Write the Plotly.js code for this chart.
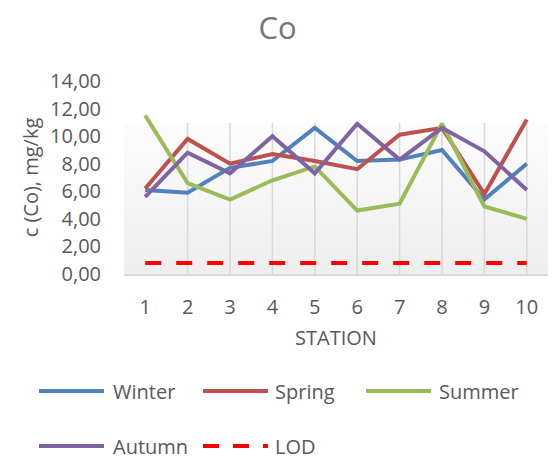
<!DOCTYPE html>
<html>
<head>
<meta charset="utf-8">
<script src="https://cdn.plot.ly/plotly-3.0.1.min.js"></script>
<style>
  html, body { margin: 0; padding: 0; background: #ffffff; }
  #chart { width: 555px; height: 461px; }
</style>
</head>
<body>
<div id="chart"></div>
<script>
// ---- data ----
const stations = ['1', '2', '3', '4', '5', '6', '7', '8', '9', '10'];
const winter = [6.1, 5.9, 7.7, 8.2, 10.6, 8.2, 8.3, 9.0, 5.4, 8.0];
const spring = [6.2, 9.8, 8.0, 8.7, 8.2, 7.6, 10.1, 10.6, 5.8, 11.2];
const summer = [11.5, 6.6, 5.4, 6.8, 7.8, 4.6, 5.1, 10.9, 4.9, 4.0];
const autumn = [5.6, 8.8, 7.3, 10.0, 7.3, 10.9, 8.3, 10.6, 8.9, 6.1];
const lod = [0.8, 0.8, 0.8, 0.8, 0.8, 0.8, 0.8, 0.8, 0.8, 0.8];
const seriesNames = ['Winter', 'Spring', 'Summer', 'Autumn', 'LOD'];
const yTicks = [0, 2, 4, 6, 8, 10, 12, 14];

// ---- styles ----
const colors = ['#4F81BD', '#C0504D', '#9BBB59', '#8064A2', '#FF0000'];
const textColor = '#595959';
const FONT = 'Open Sans, sans-serif';
const W = 555, H = 461;
const M = { l: 124, r: 7, t: 81, b: 187 };
const plotW = W - M.l - M.r, plotH = H - M.t - M.b;
const px2x = px => (px - M.l) / plotW;
const py2y = py => (H - M.b - py) / plotH;
const shadeTop = py2y(123);

const values = [winter, spring, summer, autumn, lod];
const traces = values.map((v, i) => ({
  type: 'scatter', mode: 'lines', name: seriesNames[i],
  x: stations, y: v,
  line: { color: colors[i], width: 4, dash: i === 4 ? '16px,15px' : 'solid' },
  cliponaxis: false, showlegend: false, hoverinfo: 'x+y+name'
}));

// gridlines (one per category, only in shaded area)
const shapes = stations.map(s => ({
  type: 'line', xref: 'x', yref: 'paper', x0: s, x1: s, y0: 0, y1: shadeTop,
  line: { color: '#d9d9d9', width: 1.5 }, layer: 'below'
}));

// custom legend (Excel-like long swatches)
const legendItems = [
  { row: 391, lx: 39, tx: 111 },
  { row: 391, lx: 203, tx: 273 },
  { row: 391, lx: 366, tx: 437 },
  { row: 446, lx: 39, tx: 111 },
  { row: 446, lx: 203, tx: 273 }
];
const annotations = [];
legendItems.forEach((it, i) => {
  shapes.push({
    type: 'line', xref: 'paper', yref: 'paper',
    x0: px2x(it.lx), x1: px2x(it.lx + 65), y0: py2y(it.row), y1: py2y(it.row),
    line: { color: colors[i], width: 4, dash: i === 4 ? '16px,14px' : 'solid' }
  });
  annotations.push({
    xref: 'paper', yref: 'paper', x: px2x(it.tx), y: py2y(it.row),
    xanchor: 'left', yanchor: 'middle', showarrow: false,
    text: seriesNames[i], font: { family: FONT, size: 20, color: textColor }
  });
});

const gradSvg = '<svg xmlns="http://www.w3.org/2000/svg" width="10" height="10" preserveAspectRatio="none">' +
  '<defs><linearGradient id="g" x1="0" y1="0" x2="0" y2="1">' +
  '<stop offset="0" stop-color="#fcfcfc"/><stop offset="1" stop-color="#eeeeee"/>' +
  '</linearGradient></defs><rect width="10" height="10" fill="url(#g)"/></svg>';

const layout = {
  width: W, height: H,
  margin: M,
  paper_bgcolor: '#ffffff',
  plot_bgcolor: 'rgba(0,0,0,0)',
  separators: ', ',
  showlegend: false,
  font: { family: FONT, color: textColor, size: 20 },
  title: {
    text: 'Co', x: 0.5, xanchor: 'center', y: 1 - 28 / H, yanchor: 'middle',
    font: { family: FONT, size: 31, color: '#767676' }
  },
  xaxis: {
    type: 'category', range: [-0.5, stations.length - 0.5],
    showgrid: false, zeroline: false,
    showline: true, linecolor: '#d9d9d9', linewidth: 1.5,
    ticks: '', ticklabelstandoff: 14,
    tickfont: { family: FONT, size: 20, color: textColor },
    title: { text: 'STATION', standoff: 12, font: { family: FONT, size: 20, color: textColor } },
    fixedrange: true
  },
  yaxis: {
    range: [0, 14], tickvals: yTicks, tickformat: '.2f',
    showgrid: false, zeroline: false, showline: false,
    ticks: '', ticklabelstandoff: 22,
    tickfont: { family: FONT, size: 20, color: textColor },
    title: { text: 'c (Co), mg/kg', standoff: 6, font: { family: FONT, size: 20, color: textColor } },
    fixedrange: true
  },
  shapes: shapes,
  annotations: annotations,
  images: [{
    source: 'data:image/svg+xml;charset=utf-8,' + encodeURIComponent(gradSvg),
    xref: 'paper', yref: 'paper', x: 0, y: shadeTop, sizex: 1, sizey: shadeTop,
    xanchor: 'left', yanchor: 'top', sizing: 'stretch', layer: 'below'
  }]
};

Plotly.newPlot('chart', traces, layout, { displayModeBar: false, staticPlot: true });
</script>
</body>
</html>
